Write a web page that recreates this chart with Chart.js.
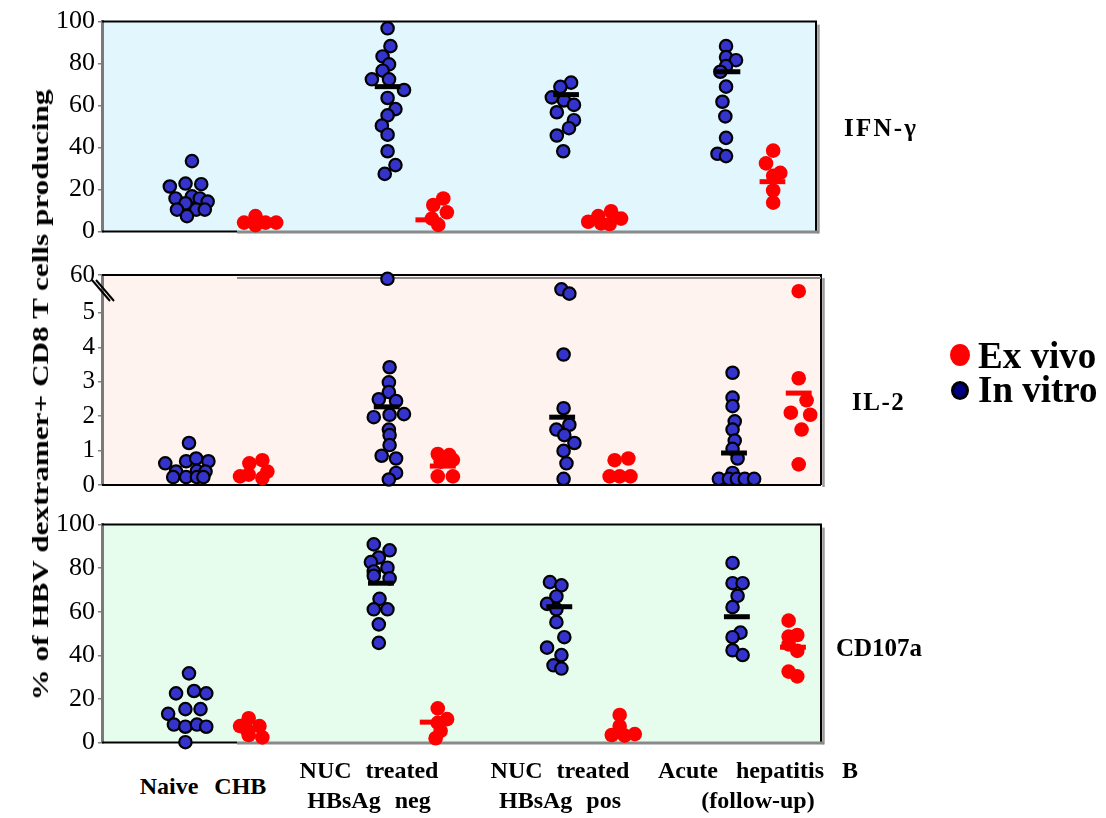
<!DOCTYPE html>
<html>
<head>
<meta charset="utf-8">
<script src="https://cdn.jsdelivr.net/npm/chart.js@4.4.1/dist/chart.umd.min.js"></script>
<style>
  body { margin: 0; background: #fff; }
  #wrap { position: relative; width: 1106px; height: 818px; overflow: hidden; font-family: "Liberation Serif", "Times New Roman", serif; }
  #wrap canvas { position: absolute; left: 0; z-index: 1; }
  .t { position: absolute; font-weight: bold; white-space: nowrap; color: #000; z-index: 5; }
  .dot { position: absolute; border-radius: 50%; box-sizing: border-box; z-index: 5; }
</style>
</head>
<body>
<div id="wrap">
  <canvas id="cIfn" width="1106" height="247" style="top:3px"></canvas>
  <canvas id="cIl2" width="1106" height="246" style="top:257px"></canvas>
  <canvas id="cCd" width="1106" height="255" style="top:506px"></canvas>

  <div class="t" id="ytitle" style="left:40px;top:395px;font-size:24px;line-height:24px;transform:translate(-50%,-50%) rotate(-90deg) scaleX(1.3);">% of HBV dextramer+ CD8 T cells producing</div>

  <div class="t" style="left:844px;top:114px;font-size:25px;line-height:normal;letter-spacing:2.2px;">IFN-γ</div>
  <div class="t" style="left:852px;top:389px;font-size:25px;line-height:25px;letter-spacing:1.5px;">IL-2</div>
  <div class="t" style="left:836px;top:635px;font-size:25px;line-height:25px;">CD107a</div>

  <span class="dot" style="left:950px;top:344px;width:20px;height:22px;background:#ff0000;"></span>
  <span class="dot" style="left:951px;top:381px;width:18px;height:19px;background:#000080;border:3px solid #000;"></span>
  <div class="t" style="left:978px;top:337px;font-size:37px;line-height:37px;">Ex vivo</div>
  <div class="t" style="left:978px;top:371px;font-size:37px;line-height:37px;">In vitro</div>

  <div class="t" style="left:203px;top:771px;font-size:24px;line-height:30px;word-spacing:10px;transform:translateX(-50%);text-align:center;">Naive CHB</div>
  <div class="t" style="left:369px;top:755px;font-size:24px;line-height:30px;word-spacing:8px;transform:translateX(-50%);text-align:center;">NUC treated<br>HBsAg neg</div>
  <div class="t" style="left:560px;top:755px;font-size:24px;line-height:30px;word-spacing:8px;transform:translateX(-50%);text-align:center;">NUC treated<br>HBsAg pos</div>
  <div class="t" style="left:758px;top:755px;font-size:24px;line-height:30px;word-spacing:12px;transform:translateX(-50%);text-align:center;">Acute hepatitis B<br>(follow-up)</div>
</div>

<script>
// x is position across the panel (0-100), y is % of cells
// groups: Naive CHB, NUC treated HBsAg neg, NUC treated HBsAg pos, Acute hepatitis B
const ifnInVitro = [
  [[12.6,33.5],[9.5,21.4],[11.7,22.8],[13.9,22.5],[10.3,15.7],[12.6,16.7],[13.7,15.7],[14.8,14.2],[11.7,13.4],[10.5,10.4],[13.2,10.4],[14.4,10.4],[11.9,7.3]],
  [[40.0,96.8],[40.4,88.3],[39.3,83.4],[40.2,79.6],[39.3,76.6],[37.8,72.5],[40.2,72.5],[42.3,67.4],[40.0,63.6],[41.1,58.3],[40.0,55.3],[39.2,50.4],[40.0,46.1],[40.0,38.2],[41.1,31.6],[39.6,27.4]],
  [[65.7,70.9],[64.2,68.9],[63.0,63.9],[64.7,62.4],[66.1,60.3],[63.7,56.8],[66.1,53.0],[65.4,49.2],[63.7,45.7],[64.6,38.2]],
  [[87.4,88.3],[87.4,83.1],[88.8,81.6],[87.4,78.8],[86.6,76.1],[87.4,69.0],[86.9,61.8],[87.3,54.8],[87.4,44.6],[86.2,37.0],[87.4,35.9]]
];
const ifnExVivo = [
  [[19.9,4.2],[21.5,7.3],[21.5,3.0],[22.9,4.2],[24.4,4.2]],
  [[47.8,15.7],[46.4,12.6],[48.3,9.1],[46.2,6.1],[47.1,3.1]],
  [[68.1,4.6],[69.5,7.3],[71.3,9.6],[72.7,6.1],[69.9,3.8],[71.1,3.5]],
  [[94.0,38.5],[93.0,32.4],[95.0,27.9],[94.0,26.5],[94.0,19.5],[94.0,13.7]]
];
const ifnMedInVitro = [null, [40.0,69.0], [65.0,65.2], [87.6,76.1]];
const ifnMedExVivo = [null, [45.7,5.5], null, [93.9,23.7]];

// IL-2: values above 5 sit in the broken part of the axis (5 .. 60)
const il2InVitro = [
  [[12.1,1.22],[8.8,0.63],[11.7,0.69],[13.1,0.77],[14.8,0.69],[10.3,0.39],[13.2,0.41],[14.4,0.39],[9.9,0.23],[11.7,0.23],[13.2,0.23],[14.1,0.23]],
  [[39.7,60],[40.0,3.42],[39.9,2.98],[39.9,2.7],[38.5,2.49],[40.9,2.44],[37.8,1.97],[40.0,2.04],[42.0,2.06],[39.9,1.61],[40.0,1.45],[40.0,1.16],[38.9,0.85],[40.9,0.77],[40.9,0.35],[39.9,0.16]],
  [[63.9,43],[65.0,36],[64.2,3.79],[64.2,2.23],[63.2,1.61],[65.0,1.75],[64.3,1.45],[65.7,1.22],[64.2,0.99],[64.6,0.63],[64.2,0.18]],
  [[87.7,3.26],[87.7,2.54],[87.7,2.29],[88.0,1.85],[87.7,1.61],[88.0,1.29],[87.7,1.05],[88.4,0.77],[87.7,0.35],[85.8,0.18],[87.2,0.18],[88.3,0.18],[89.4,0.18],[90.7,0.18]]
];
const il2ExVivo = [
  [[19.2,0.25],[20.5,0.63],[22.3,0.72],[23.0,0.39],[22.3,0.2],[20.4,0.3]],
  [[46.7,0.9],[48.3,0.87],[47.1,0.68],[48.8,0.73],[46.7,0.25],[48.8,0.25]],
  [[71.3,0.72],[73.2,0.77],[70.6,0.25],[72.0,0.25],[73.5,0.25]],
  [[96.9,40],[96.9,3.1],[98.0,2.46],[95.8,2.1],[98.5,2.04],[97.3,1.61],[96.9,0.6]]
];
const il2MedInVitro = [null, [39.6,2.27], [64.0,1.97], [87.9,0.93]];
const il2MedExVivo = [null, [47.4,0.55], null, [96.9,2.67]];

const cdInVitro = [
  [[12.1,31.7],[10.3,22.5],[12.8,23.6],[14.5,22.5],[9.2,13.1],[11.6,15.3],[13.7,15.3],[10.0,8.2],[11.6,7.2],[13.2,8.2],[14.5,7.2],[11.6,0.1]],
  [[37.8,90.9],[40.0,88.2],[38.5,84.9],[37.4,82.8],[39.7,80.2],[37.8,78.5],[37.8,76.5],[40.0,75.3],[38.6,65.9],[37.8,61.1],[39.7,61.1],[38.5,54.2],[38.5,45.7]],
  [[62.3,73.6],[63.9,72.1],[63.2,67.0],[61.9,63.6],[63.2,61.1],[63.2,55.2],[64.3,48.3],[61.9,43.5],[63.9,40.1],[62.8,35.4],[63.9,33.9]],
  [[87.7,82.4],[87.7,73.1],[89.1,73.1],[88.4,67.3],[87.7,62.1],[88.8,50.4],[87.7,48.3],[87.7,42.3],[89.1,40.1]]
];
const cdExVivo = [
  [[20.4,11.1],[19.2,7.5],[21.9,7.5],[20.4,3.4],[22.3,2.3],[20.1,6.0]],
  [[46.7,15.6],[48.0,10.7],[46.7,9.0],[47.1,5.3],[46.4,1.9]],
  [[72.0,12.6],[72.0,7.5],[70.9,3.4],[72.7,3.1],[74.1,3.8]],
  [[95.5,55.9],[95.5,48.6],[96.7,49.3],[96.7,42.0],[95.5,45.0],[95.5,32.5],[96.7,30.3]]
];
const cdMedInVitro = [null, [38.8,73.1], [63.6,62.3], [88.3,57.7]];
const cdMedExVivo = [null, [46.0,9.3], null, [96.1,43.7]];

const ticks100 = [0, 20, 40, 60, 80, 100];
const ticksIl2 = [0, 1, 2, 3, 4, 5, 60];

const blue = "#3434cc";
const red = "#ff0000";

// broken IL-2 axis: 0-5 linear, 5-60 squeezed into the top band
function il2Axis(v) {
  return v <= 5 ? v : 5 + (v - 5) * 0.018;
}
const il2Top = 6.1;

const panelDeco = {
  id: "panel",
  beforeDraw(chart, args, o) {
    const { ctx, chartArea: a } = chart;
    ctx.save();
    ctx.fillStyle = o.bg;
    ctx.fillRect(a.left, a.top, a.right - a.left, a.bottom - a.top);
    ctx.restore();
  },
  beforeDatasetsDraw(chart, args, o) {
    const { ctx, chartArea: a } = chart;
    ctx.save();
    // grey shadow on the right
    ctx.strokeStyle = "#9a9a9a";
    ctx.lineWidth = 2.5;
    ctx.beginPath();
    ctx.moveTo(a.right + 2.5, a.top + 3);
    ctx.lineTo(a.right + 2.5, a.bottom + 2);
    ctx.stroke();

    ctx.strokeStyle = "#000";
    ctx.lineWidth = 2;
    ctx.beginPath();
    ctx.moveTo(a.left, a.top);
    ctx.lineTo(a.right, a.top);
    ctx.lineTo(a.right, a.bottom);
    ctx.stroke();

    ctx.beginPath();
    ctx.moveTo(a.left, a.bottom);
    ctx.lineTo(o.greyBottom ? a.left + 135 : a.right, a.bottom);
    ctx.stroke();
    if (o.greyBottom) {
      ctx.strokeStyle = "#8a8a8a";
      ctx.lineWidth = 3;
      ctx.beginPath();
      ctx.moveTo(a.left + 135, a.bottom + 0.5);
      ctx.lineTo(a.right + 3, a.bottom + 0.5);
      ctx.stroke();
    }
    if (o.greyTop) {
      ctx.strokeStyle = "#8a8a8a";
      ctx.lineWidth = 2;
      ctx.beginPath();
      ctx.moveTo(a.left + 135, a.top + 3);
      ctx.lineTo(a.right, a.top + 3);
      ctx.stroke();
    }
    if (o.axisBreak) {
      ctx.strokeStyle = "#000";
      ctx.lineWidth = 2;
      for (const dx of [0, 4]) {
        ctx.beginPath();
        ctx.moveTo(a.left - 10 + dx, a.top + 5);
        ctx.lineTo(a.left + 8 + dx, a.top + 26);
        ctx.stroke();
      }
    }
    ctx.restore();
  }
};

function pointSet(groups, color, axisFn) {
  const data = [];
  groups.forEach(g => g.forEach(p => data.push({ x: p[0], y: axisFn(p[1]) })));
  const isBlue = color === blue;
  return {
    data,
    order: 1,
    clip: false,
    pointRadius: isBlue ? 6.2 : 7.3,
    pointBackgroundColor: color,
    pointBorderColor: isBlue ? "#000" : color,
    pointBorderWidth: isBlue ? 2.2 : 0,
    showLine: false
  };
}

function medianSets(meds, color, axisFn) {
  return meds.filter(m => m).map(m => ({
    data: [{ x: m[0] - 1.8, y: axisFn(m[1]) }, { x: m[0] + 1.8, y: axisFn(m[1]) }],
    order: 0,
    clip: false,
    showLine: true,
    borderColor: color,
    borderWidth: 5,
    pointRadius: 0
  }));
}

function drawPanel(id, cfg) {
  const f = cfg.axisFn || (v => v);
  const datasets = [
    ...medianSets(cfg.medIn, "#000", f),
    ...medianSets(cfg.medEx, red, f),
    pointSet(cfg.inVitro, blue, f),
    pointSet(cfg.exVivo, red, f)
  ];
  new Chart(document.getElementById(id), {
    type: "scatter",
    data: { datasets },
    options: {
      responsive: false,
      animation: false,
      events: [],
      layout: { padding: { left: 0, right: cfg.padRight, top: 14, bottom: 14 } },
      plugins: {
        legend: { display: false },
        tooltip: { enabled: false },
        panel: { bg: cfg.bg, greyBottom: cfg.greyBottom, greyTop: cfg.greyTop, axisBreak: cfg.axisBreak }
      },
      scales: {
        x: { type: "linear", min: 0, max: 100, display: false },
        y: {
          type: "linear",
          min: 0,
          max: cfg.max,
          afterFit(s) { s.width = 102; },
          // the top tick of the broken axis is drawn at the top edge
          afterBuildTicks(s) { s.ticks = cfg.ticks.map(v => ({ value: v > 5 && cfg.axisFn ? cfg.max : v })); },
          ticks: {
            color: "#000",
            padding: 3,
            font: { family: "Liberation Serif", size: cfg.tickSize },
            callback: cfg.tickLabel || (v => v)
          },
          grid: { drawOnChartArea: false, drawTicks: true, tickLength: 4, color: "#808080", lineWidth: 1.5 },
          border: { display: true, color: "#7a7a7a", width: 3 }
        }
      }
    },
    plugins: [panelDeco]
  });
}

drawPanel("cIfn", {
  inVitro: ifnInVitro, exVivo: ifnExVivo, medIn: ifnMedInVitro, medEx: ifnMedExVivo,
  max: 100, ticks: ticks100, tickSize: 26, padRight: 290,
  bg: "#e1f7fd", greyBottom: true
});

drawPanel("cIl2", {
  inVitro: il2InVitro, exVivo: il2ExVivo, medIn: il2MedInVitro, medEx: il2MedExVivo,
  axisFn: il2Axis, max: il2Top, ticks: ticksIl2, tickSize: 25, padRight: 285,
  tickLabel: v => (v > 5 ? "60" : v),
  bg: "#fef3ee", greyTop: true, axisBreak: true
});

drawPanel("cCd", {
  inVitro: cdInVitro, exVivo: cdExVivo, medIn: cdMedInVitro, medEx: cdMedExVivo,
  max: 100, ticks: ticks100, tickSize: 26, padRight: 285,
  bg: "#e6fdee", greyBottom: true
});
</script>
</body>
</html>
